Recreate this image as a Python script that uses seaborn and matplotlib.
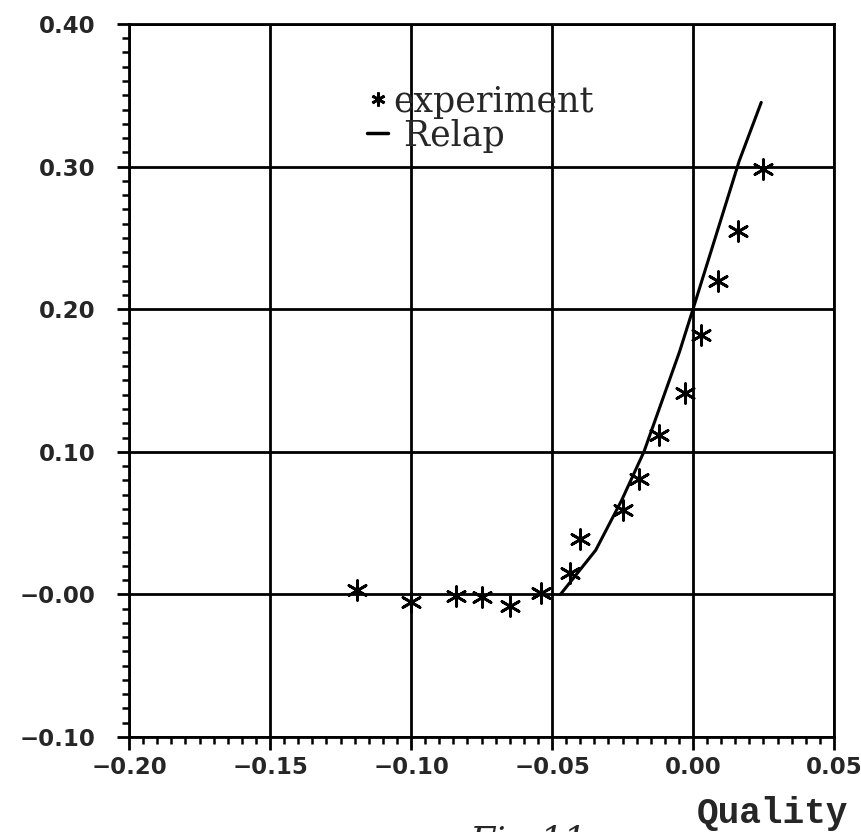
import matplotlib
matplotlib.use("Agg")
import matplotlib.pyplot as plt
import seaborn as sns
from matplotlib.lines import Line2D
from matplotlib.ticker import MultipleLocator

# experiment points
exp_quality = [-0.119, -0.100, -0.084, -0.075, -0.065, -0.054, -0.0435, -0.040,
               -0.025, -0.019, -0.012, -0.003, 0.003, 0.009, 0.016, 0.025]
exp_value = [0.003, -0.005, -0.001, -0.002, -0.008, 0.001, 0.015, 0.039,
             0.059, 0.081, 0.112, 0.141, 0.182, 0.220, 0.255, 0.298]

# Relap curve
relap_quality = [-0.047, -0.0345, -0.0253, -0.0174, -0.0048, 0.0, 0.0164, 0.0242]
relap_value = [0.0, 0.031, 0.066, 0.100, 0.170, 0.200, 0.304, 0.345]

x_ticks = [-0.20, -0.15, -0.10, -0.05, 0.00, 0.05]
x_labels = ["\u22120.20", "\u22120.15", "\u22120.10", "\u22120.05", "0.00", "0.05"]
y_ticks = [-0.10, 0.00, 0.10, 0.20, 0.30, 0.40]
y_labels = ["\u22120.10", "\u22120.00", "0.10", "0.20", "0.30", "0.40"]

sns.set_style("white")
plt.rcParams['font.family'] = ['DejaVu Sans']

fig = plt.figure(figsize=(8.62, 8.32), dpi=100)
ax = fig.add_axes([0.1497, 0.1142, 0.8178, 0.857])

sns.lineplot(x=relap_quality, y=relap_value, color='black', linewidth=2.2,
             sort=False, estimator=None, ax=ax, zorder=3)
sns.scatterplot(x=exp_quality, y=exp_value, marker=(6, 2, 0), s=200,
                color='black', linewidth=2, ax=ax, zorder=4)

ax.set_xlim(-0.20, 0.05)
ax.set_ylim(-0.10, 0.40)
ax.set_xticks(x_ticks)
ax.set_xticklabels(x_labels, fontweight='bold')
ax.set_yticks(y_ticks)
ax.set_yticklabels(y_labels, fontweight='bold')
ax.xaxis.set_minor_locator(MultipleLocator(0.005))
ax.yaxis.set_minor_locator(MultipleLocator(0.01))
ax.set_xlabel('')
ax.set_ylabel('')

ax.grid(True, which='major', color='black', linewidth=2)
for sp in ax.spines.values():
    sp.set_color('black')
    sp.set_linewidth(2)

ax.tick_params(which='major', direction='out', length=9, width=2,
               labelsize=16.5, color='black', bottom=True, left=True)
ax.tick_params(which='minor', direction='out', length=5, width=1.8,
               color='black', bottom=True, left=True)
ax.tick_params(axis='y', which='major', pad=15)
ax.tick_params(axis='x', which='major', pad=5)

handles = [Line2D([], [], marker=(6, 2, 0), ls='', color='black', ms=10, mew=2),
           Line2D([], [], color='black', lw=2.5)]
ax.legend(handles, ['experiment', ' Relap'], frameon=False,
          prop={'family': 'DejaVu Serif', 'size': 25},
          handlelength=0.6, handletextpad=0.15, labelspacing=0.0,
          borderpad=0, borderaxespad=0,
          loc='upper left', bbox_to_anchor=(0.338, 0.915))

fig.text(0.8956, 0.0108, 'Quality', ha='center', va='baseline',
         family='Liberation Mono', weight='bold', size=26)
fig.text(0.545, 0.009, 'Fig.11', ha='left', va='top',
         family='DejaVu Serif', style='italic', size=26)

fig.savefig('out.png', dpi=100)
